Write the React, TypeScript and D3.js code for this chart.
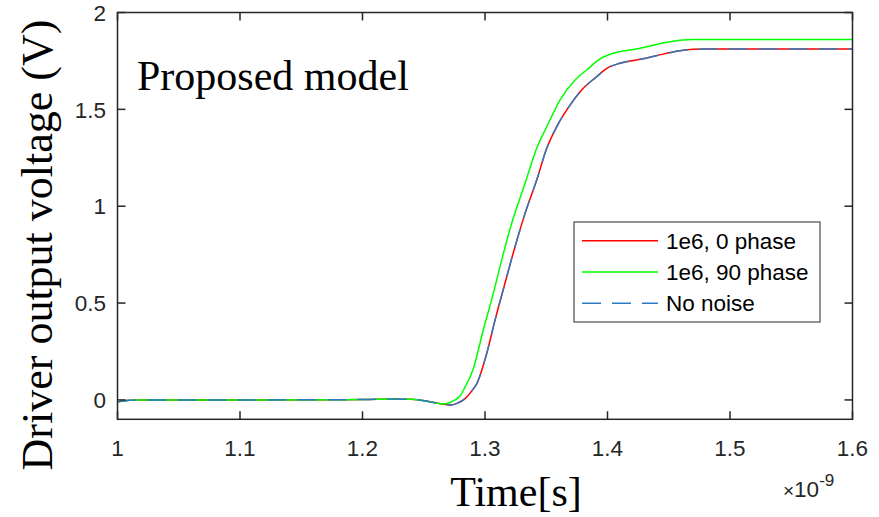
import React from "react";
import * as d3 from "d3";

const redT = [1.0, 1.01, 1.02, 1.1, 1.2, 1.225, 1.24, 1.255, 1.265, 1.272, 1.277, 1.284, 1.289, 1.293, 1.3014, 1.3082, 1.3163, 1.3245, 1.3327, 1.3422, 1.3504, 1.3585, 1.3694, 1.3789, 1.3912, 1.3994, 1.4102, 1.43, 1.448, 1.459, 1.47, 1.48, 1.6];
const redV = [-0.01, -0.002, 0.0, 0.0, 0.002, 0.005, 0.003, -0.009, -0.021, -0.026, -0.018, 0.008, 0.045, 0.08, 0.24, 0.412, 0.602, 0.791, 0.963, 1.135, 1.299, 1.41, 1.522, 1.6, 1.669, 1.712, 1.738, 1.762, 1.789, 1.803, 1.81, 1.811, 1.811];

const greenT = [1.0, 1.01, 1.02, 1.1, 1.2, 1.225, 1.24, 1.255, 1.266, 1.272, 1.2755, 1.2796, 1.284, 1.2904, 1.2986, 1.3068, 1.3136, 1.3218, 1.3327, 1.3422, 1.3504, 1.3612, 1.3735, 1.383, 1.3939, 1.4047, 1.4238, 1.4483, 1.4592, 1.47, 1.48, 1.6];
const greenV = [-0.01, -0.002, 0.0, 0.0, 0.002, 0.005, 0.003, -0.01, -0.021, -0.012, 0.0, 0.02, 0.07, 0.16, 0.361, 0.55, 0.722, 0.912, 1.118, 1.299, 1.41, 1.548, 1.652, 1.703, 1.76, 1.79, 1.812, 1.846, 1.857, 1.861, 1.861, 1.861];

// "No noise" reference coincides with the 0-phase trace
const blueT = redT;
const blueV = redV;

const xTicks = [1, 1.1, 1.2, 1.3, 1.4, 1.5, 1.6];
const yTicks = [0, 0.5, 1, 1.5, 2];
const legendLabels = ["1e6, 0 phase", "1e6, 90 phase", "No noise"];

const W = 879;
const H = 517;
const L = 117.5, R = 852.5, T = 12.5, B = 419.3;

export default function App() {
  const x = d3.scaleLinear().domain([1, 1.6]).range([L, R]);
  const y = d3.scaleLinear().domain([-0.1, 2]).range([B, T]);
  const line = (ts: number[], vs: number[]) =>
    d3.line<number>().x((_, i) => x(ts[i])).y((v) => y(v)).curve(d3.curveMonotoneX)(vs) || "";

  const axisColor = "#262626";
  const tickFont = "'Liberation Sans', Arial, sans-serif";
  const serif = "'Liberation Serif', 'Times New Roman', serif";
  const tl = 8;
  const fs = 22.5;

  const legendItems = [
    { label: legendLabels[0], color: "#ff0000", dash: undefined },
    { label: legendLabels[1], color: "#00ff00", dash: undefined },
    { label: legendLabels[2], color: "#2b7cc1", dash: "19,11" },
  ];

  return (
    <svg width={W} height={H} style={{ position: "absolute", left: 0, top: 0, background: "#fff" }}>
      <rect x={0} y={0} width={W} height={H} fill="#fff" />
      <defs>
        <clipPath id="plotclip">
          <rect x={L} y={T} width={R - L} height={B - T} />
        </clipPath>
      </defs>
      <g clipPath="url(#plotclip)">
        <path d={line(redT, redV)} fill="none" stroke="#ff0000" strokeWidth={1.5} />
        <path d={line(greenT, greenV)} fill="none" stroke="#00ff00" strokeWidth={1.5} />
        <path d={line(blueT, blueV)} fill="none" stroke="#2b7cc1" strokeWidth={1.5} strokeDasharray="19,11" />
      </g>
      {/* axes box */}
      <rect x={L} y={T} width={R - L} height={B - T} fill="none" stroke={axisColor} strokeWidth={1.5} />
      {xTicks.map((t) => (
        <g key={"x" + t}>
          <line x1={x(t)} x2={x(t)} y1={B} y2={B - tl} stroke={axisColor} strokeWidth={1.5} />
          <line x1={x(t)} x2={x(t)} y1={T} y2={T + tl} stroke={axisColor} strokeWidth={1.5} />
          <text x={x(t)} y={456} textAnchor="middle" fontFamily={tickFont} fontSize={fs} fill={axisColor}>
            {String(t)}
          </text>
        </g>
      ))}
      {yTicks.map((v) => (
        <g key={"y" + v}>
          <line x1={L} x2={L + tl} y1={y(v)} y2={y(v)} stroke={axisColor} strokeWidth={1.5} />
          <line x1={R} x2={R - tl} y1={y(v)} y2={y(v)} stroke={axisColor} strokeWidth={1.5} />
          <text x={106} y={y(v) + 8.2} textAnchor="end" fontFamily={tickFont} fontSize={fs} fill={axisColor}>
            {String(v)}
          </text>
        </g>
      ))}
      {/* exponent */}
      <text x={783} y={497} fontFamily={tickFont} fontSize={fs} fill={axisColor}>
        <tspan fontSize={19}>×</tspan>10
        <tspan dy={-11} fontSize={17}>-9</tspan>
      </text>
      {/* axis labels */}
      <text x={516} y={506} textAnchor="middle" fontFamily={serif} fontSize={42} fill="#000">
        Time[s]
      </text>
      <text
        transform={`translate(52, 245) rotate(-90)`}
        textAnchor="middle"
        fontFamily={serif}
        fontSize={44}
        fill="#000"
      >
        Driver output voltage (V)
      </text>
      {/* annotation */}
      <text x={137} y={90} fontFamily={serif} fontSize={42} fill="#000">
        Proposed model
      </text>
      {/* legend */}
      <rect x={574} y={222} width={246} height={100} fill="#fff" stroke={axisColor} strokeWidth={1} />
      {legendItems.map((it, i) => {
        const ly = 240.7 + i * 31.3;
        return (
          <g key={it.label}>
            <line x1={582} x2={658} y1={ly} y2={ly} stroke={it.color} strokeWidth={1.5} strokeDasharray={it.dash} />
            <text x={666} y={ly + 8} fontFamily={tickFont} fontSize={fs} fill="#000">
              {it.label}
            </text>
          </g>
        );
      })}
    </svg>
  );
}
